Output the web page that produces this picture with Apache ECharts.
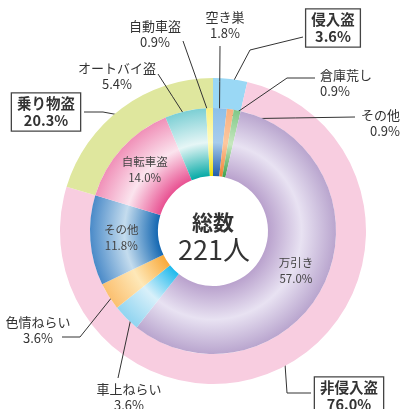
<!DOCTYPE html>
<html>
<head>
<meta charset="utf-8">
<script src="https://cdn.jsdelivr.net/npm/echarts@6/dist/echarts.min.js"></script>
<style>
  html, body { margin: 0; padding: 0; background: #fff; }
  #chart { width: 401px; height: 409px; }
</style>
</head>
<body>
<div id="chart"></div>
<script>
// 内側：手口別
const innerNames = ['空き巣', '倉庫荒し', 'その他', '万引き', '車上ねらい', '色情ねらい', 'その他', '自転車盗', 'オートバイ盗', '自動車盗'];
const innerValues = [1.8, 0.9, 0.9, 57.0, 3.6, 3.6, 11.8, 14.0, 5.4, 0.9];
// 外側：大分類
const outerNames = ['侵入盗', '非侵入盗', '乗り物盗'];
const outerValues = [3.6, 76.0, 20.3];
const totalTitle = '総数';
const totalText = '221人';

const FONT = '"Noto Sans CJK JP", "Noto Sans", sans-serif';
const CX = 213, CY = 231;

// inner edge / middle / outer edge colours
const innerColors = [
  ['#1e5aa8', '#a8ccec', '#8cc0ea'],
  ['#f08030', '#fcc8a0', '#f8b080'],
  ['#3aa04a', '#c8e8c0', '#80c888'],
  ['#b8a0cc', '#e8e2f2', '#b9a5ce'],
  ['#1ab8ec', '#d8f0fa', '#90d4f0'],
  ['#f8a838', '#fee8b8', '#fbc070'],
  ['#0f64b0', '#c4dcee', '#4a8ac8'],
  ['#e84d8f', '#fbe4ee', '#f090b8'],
  ['#00a8a4', '#e6f6f6', '#7ccfd4'],
  ['#f0e000', '#fffcc0', '#f8f080']
];
const outerColors = ['#9ad8f5', '#f8cde0', '#dfe79e'];

function ringGradient(c) {
  return {
    type: 'radial', x: CX, y: CY, r: 123, global: true,
    colorStops: [
      { offset: 0.44, color: c[0] },
      { offset: 0.72, color: c[1] },
      { offset: 1, color: c[2] }
    ]
  };
}

const insideIdx = [3, 6, 7];

// label placement: centre of text and guide line elbow/end
const innerGuide = {
  0: { x: 225, y: 25, end: [220, 46] },
  1: { x: 320, y: 83, align: 'left', mid: [287, 78], end: [315, 78] },
  2: { x: 400, y: 123, align: 'right', end: [355, 117] },
  4: { x: 129, y: 397, end: [118, 378] },
  5: { x: 38, y: 330, mid: [80, 337], end: [62, 337] },
  8: { x: 117, y: 76, end: [158, 74] },
  9: { x: 155, y: 34, end: [183, 41] }
};
const outerGuide = {
  0: { x: 333, y: 28, mid: [250, 50], end: [303, 37] },
  1: { x: 349, y: 396, mid: [287, 393], end: [311, 393] },
  2: { x: 46, y: 112, mid: [103, 112], end: [84, 112] }
};

function shrink(p, f) {
  return [CX + (p[0] - CX) * f, CY + (p[1] - CY) * f];
}

function makeLayout(guide) {
  return function (params) {
    const g = guide[params.dataIndex];
    if (!g || !params.labelLinePoints) return;
    const start = shrink(params.labelLinePoints[0], 0.93);
    const mid = g.mid || [(start[0] + g.end[0]) / 2, (start[1] + g.end[1]) / 2];
    return {
      x: g.x, y: g.y,
      align: g.align || 'center',
      verticalAlign: 'middle',
      labelLinePoints: [start, mid, g.end]
    };
  };
}

const pctFmt = p => p.name + '\n' + p.value.toFixed(1) + '%';

const innerData = innerValues.map((v, i) => {
  const item = {
    name: innerNames[i],
    value: v,
    itemStyle: { color: ringGradient(innerColors[i]) }
  };
  if (insideIdx.indexOf(i) >= 0) {
    item.label = { position: 'inside', fontSize: 11.5, color: '#444', lineHeight: 16 };
    item.labelLine = { show: false };
  }
  return item;
});

const outerData = outerValues.map((v, i) => ({
  name: outerNames[i],
  value: v,
  itemStyle: { color: outerColors[i] }
}));

const chart = echarts.init(document.getElementById('chart'));
chart.setOption({
  animation: false,
  graphic: [
    {
      type: 'text', x: CX, y: 222,
      style: { text: totalTitle, fontSize: 21, fontWeight: 'bold', fontFamily: FONT, fill: '#333', align: 'center', verticalAlign: 'middle' }
    },
    {
      type: 'text', x: CX + 1, y: 250,
      style: { text: totalText, fontSize: 27, fontFamily: FONT, fill: '#333', align: 'center', verticalAlign: 'middle' }
    }
  ],
  series: [
    {
      type: 'pie',
      center: [CX, CY],
      radius: [123, 153],
      startAngle: 90,
      clockwise: true,
      avoidLabelOverlap: false,
      silent: true,
      z: 1,
      label: {
        formatter: pctFmt,
        fontFamily: FONT,
        fontSize: 14.5,
        fontWeight: 'bold',
        color: '#333',
        lineHeight: 17,
        backgroundColor: '#fff',
        borderColor: '#444',
        borderWidth: 1.3,
        padding: [2, 5, 1, 5]
      },
      labelLine: { show: true, lineStyle: { color: '#333', width: 1 } },
      labelLayout: makeLayout(outerGuide),
      data: outerData
    },
    {
      type: 'pie',
      center: [CX, CY],
      radius: [55, 123],
      startAngle: 90,
      clockwise: true,
      avoidLabelOverlap: false,
      silent: true,
      z: 2,
      label: {
        formatter: pctFmt,
        fontFamily: FONT,
        fontSize: 13,
        color: '#333',
        lineHeight: 16
      },
      labelLine: { show: true, lineStyle: { color: '#333', width: 1 } },
      labelLayout: makeLayout(innerGuide),
      data: innerData
    }
  ]
});
</script>
</body>
</html>
